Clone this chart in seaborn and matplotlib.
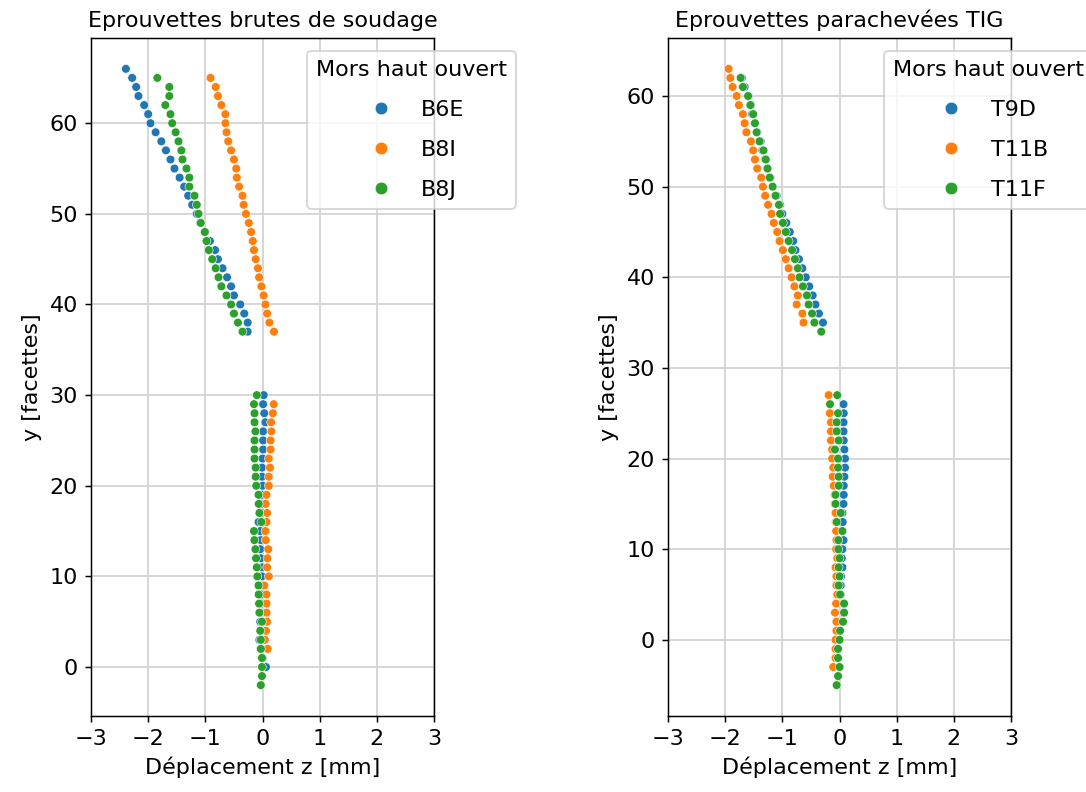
import numpy as np
import pandas as pd
import matplotlib
matplotlib.use("Agg")
import matplotlib.pyplot as plt
import seaborn as sns

# ---------------- Data : éprouvettes brutes de soudage ----------------
names_brut = ["B6E", "B8I", "B8J"]

y_B6E = [66, 65, 64, 63, 62, 61, 60, 59, 58, 57, 56, 55, 54, 53, 52, 51, 50, 49, 48, 47,
         46, 45, 44, 43, 42, 41, 40, 39, 38, 37,
         30, 29, 28, 27, 26, 25, 24, 23, 22, 21, 20, 19, 18, 17, 16, 15, 14, 13, 12, 11,
         10, 9, 8, 7, 6, 5, 4, 3, 2, 1, 0]
z_B6E = [-2.39, -2.28, -2.21, -2.17, -2.07, -2.00, -1.96, -1.87, -1.77, -1.69, -1.61, -1.54,
         -1.45, -1.37, -1.30, -1.23, -1.15, -1.09, -1.00, -0.92, -0.83, -0.78, -0.70, -0.62,
         -0.55, -0.50, -0.39, -0.32, -0.26, -0.26,
         0.02, 0.01, 0.03, 0.05, 0.01, 0.01, 0.01, 0.00, -0.01, -0.01, 0.00, -0.015, -0.015,
         -0.02, -0.07, -0.04, -0.03, -0.04, -0.03, -0.01, -0.01, 0.00, -0.01, -0.02, -0.03,
         -0.04, -0.03, -0.055, -0.02, 0.00, 0.06]

y_B8I = [65, 64, 63, 62, 61, 60, 59, 58, 57, 56, 55, 54, 53, 52, 51, 50, 49, 48, 47, 46,
         45, 44, 43, 42, 41, 40, 39, 38, 37,
         29, 28, 27, 26, 25, 24, 23, 22, 21, 20, 19, 18, 17, 16, 15, 14, 13, 12, 11, 10,
         9, 8, 7, 6, 5, 4, 3, 2]
z_B8I = [-0.91, -0.82, -0.78, -0.72, -0.65, -0.65, -0.63, -0.60, -0.55, -0.50, -0.46, -0.45,
         -0.41, -0.35, -0.33, -0.29, -0.24, -0.20, -0.17, -0.15, -0.12, -0.08, -0.06, -0.02,
         0.02, 0.05, 0.08, 0.12, 0.20,
         0.195, 0.18, 0.15, 0.155, 0.14, 0.14, 0.11, 0.13, 0.11, 0.11, 0.07, 0.055, 0.08,
         0.07, 0.05, 0.055, 0.10, 0.085, 0.08, 0.11, 0.03, 0.07, 0.07, 0.07, 0.08, 0.06,
         0.04, 0.09]

y_B8J = [65, 64, 63, 62, 61, 60, 59, 58, 57, 56, 55, 54, 53, 52, 51, 50, 49, 48, 47, 46,
         45, 44, 43, 42, 41, 40, 39, 38, 37,
         30, 29, 28, 27, 26, 25, 24, 23, 22, 21, 20, 19, 18, 17, 16, 15, 14, 13, 12, 11,
         10, 9, 8, 7, 6, 5, 4, 3, 2, 1, 0, -1, -2]
z_B8J = [-1.84, -1.63, -1.63, -1.70, -1.61, -1.58, -1.52, -1.47, -1.42, -1.40, -1.33, -1.28,
         -1.28, -1.19, -1.15, -1.12, -1.08, -1.01, -0.98, -0.94, -0.88, -0.82, -0.77, -0.72,
         -0.63, -0.55, -0.50, -0.43, -0.35,
         -0.10, -0.15, -0.14, -0.14, -0.125, -0.14, -0.14, -0.14, -0.12, -0.12, -0.11,
         -0.07, -0.067, -0.055, -0.02, -0.15, -0.143, -0.125, -0.114, -0.10, -0.09, -0.07,
         -0.067, -0.06, -0.055, -0.01, -0.04, -0.03, -0.03, -0.01, -0.01, -0.01, -0.03]

# ---------------- Data : éprouvettes parachevées TIG ----------------
names_tig = ["T9D", "T11B", "T11F"]

y_T9D = [62, 61, 60, 59, 58, 57, 56, 55, 54, 53, 52, 51, 50, 49, 48, 47, 46, 45, 44, 43,
         42, 41, 40, 39, 38, 37, 36, 35,
         26, 25, 24, 23, 22, 21, 20, 19, 18, 17, 16, 15, 14, 13, 12, 11, 10, 9, 8, 7, 6,
         5, 4, 3]
z_T9D = [-1.71, -1.66, -1.59, -1.55, -1.53, -1.48, -1.44, -1.38, -1.35, -1.30, -1.26, -1.21,
         -1.17, -1.10, -1.04, -1.00, -0.93, -0.87, -0.81, -0.77, -0.71, -0.65, -0.59, -0.53,
         -0.47, -0.42, -0.36, -0.29,
         0.07, 0.073, 0.07, 0.07, 0.073, 0.085, 0.096, 0.096, 0.085, 0.073, 0.073, 0.07,
         0.05, 0.055, 0.05, 0.07, 0.05, 0.04, 0.05, 0.026, 0.02, 0.02, 0.07, 0.07]

y_T11B = [63, 62, 61, 60, 59, 58, 57, 56, 55, 54, 53, 52, 51, 50, 49, 48, 47, 46, 45, 44,
          43, 42, 41, 40, 39, 38, 37, 36, 35,
          27, 26, 25, 24, 23, 22, 21, 20, 19, 18, 17, 16, 15, 14, 13, 12, 11, 10, 9, 8, 7,
          6, 5, 4, 3, 2, 1, 0, -1, -2, -3]
z_T11B = [-1.94, -1.91, -1.87, -1.80, -1.76, -1.69, -1.66, -1.63, -1.55, -1.51, -1.48, -1.44,
          -1.37, -1.34, -1.30, -1.25, -1.19, -1.15, -1.09, -1.05, -0.99, -0.94, -0.89, -0.84,
          -0.79, -0.73, -0.75, -0.65, -0.63,
          -0.19, -0.17, -0.17, -0.15, -0.15, -0.15, -0.13, -0.13, -0.11, -0.12, -0.10,
          -0.085, -0.085, -0.07, -0.067, -0.06, -0.055, -0.06, -0.04, -0.07, -0.055,
          -0.055, -0.04, -0.06, -0.08, -0.055, -0.055, -0.07, -0.07, -0.07, -0.11]

y_T11F = [62, 61, 60, 59, 58, 57, 56, 55, 54, 53, 52, 51, 50, 49, 48, 47, 46, 45, 44, 43,
          42, 41, 40, 39, 38, 37, 36, 35, 34,
          27, 26, 25, 24, 23, 22, 21, 20, 19, 18, 17, 16, 15, 14, 13, 12, 11, 10, 9, 8, 7,
          6, 5, 4, 3, 2, 1, 0, -1, -2, -3, -4, -5]
z_T11F = [-1.73, -1.69, -1.60, -1.56, -1.51, -1.48, -1.45, -1.40, -1.33, -1.29, -1.26, -1.22,
          -1.17, -1.12, -1.06, -1.04, -0.99, -0.94, -0.89, -0.83, -0.78, -0.73, -0.70, -0.64,
          -0.57, -0.54, -0.48, -0.44, -0.32,
          -0.04, -0.166, -0.026, -0.05, -0.05, -0.015, -0.08, -0.026, -0.026, -0.015,
          -0.015, -0.07, -0.07, 0.02, -0.05, 0.05, -0.02, -0.02, 0.00, -0.015, 0.00,
          -0.015, 0.01, 0.08, 0.08, 0.06, 0.01, 0.00, -0.026, -0.026, 0.00, -0.026, -0.05]

x_ticks = [-3, -2, -1, 0, 1, 2, 3]
titles = ["Eprouvettes brutes de soudage", "Eprouvettes parachevées TIG"]
legend_title = "Mors haut ouvert"
x_label = "Déplacement z [mm]"
y_label = "y [facettes]"


def frame(names, ys, zs):
    rows = []
    for name, yv, zv in zip(names, ys, zs):
        for y, z in zip(yv, zv):
            rows.append((name, z, y))
    return pd.DataFrame(rows, columns=["eprouvette", "z", "y"])


df_brut = frame(names_brut, [y_B6E, y_B8I, y_B8J], [z_B6E, z_B8I, z_B8J])
df_tig = frame(names_tig, [y_T9D, y_T11B, y_T11F], [z_T9D, z_T11B, z_T11F])

plt.rcParams.update({"font.size": 12, "font.family": ["DejaVu Sans"]})
DPI = 133.33
fig, axes = plt.subplots(1, 2, figsize=(1086 / DPI, 792 / DPI), dpi=DPI)
fig.subplots_adjust(left=0.0838, right=0.931, bottom=0.096, top=0.952, wspace=0.682)

for ax, df, names, title in zip(axes, [df_brut, df_tig], [names_brut, names_tig], titles):
    sns.scatterplot(data=df, x="z", y="y", hue="eprouvette", hue_order=names,
                    palette="tab10", s=22, linewidth=0.3, ax=ax, zorder=3)
    ax.set_xlim(-3, 3)
    ax.set_xticks(x_ticks)
    ax.grid(True, color="#d4d4d4", linewidth=1.0)
    ax.set_axisbelow(True)
    ax.set_title(title, fontsize=12)
    ax.set_xlabel(x_label, fontsize=12)
    ax.set_ylabel(y_label, fontsize=12)
    sns.move_legend(ax, "upper left", bbox_to_anchor=(0.63, 0.981), borderaxespad=0,
                    title=legend_title, fontsize=12, title_fontsize=12, frameon=True,
                    labelspacing=0.9)
    leg = ax.get_legend()
    for h in leg.legend_handles:
        try:
            h.set_markersize(6.8)
        except Exception:
            pass

fig.savefig("out.png", dpi=DPI)
